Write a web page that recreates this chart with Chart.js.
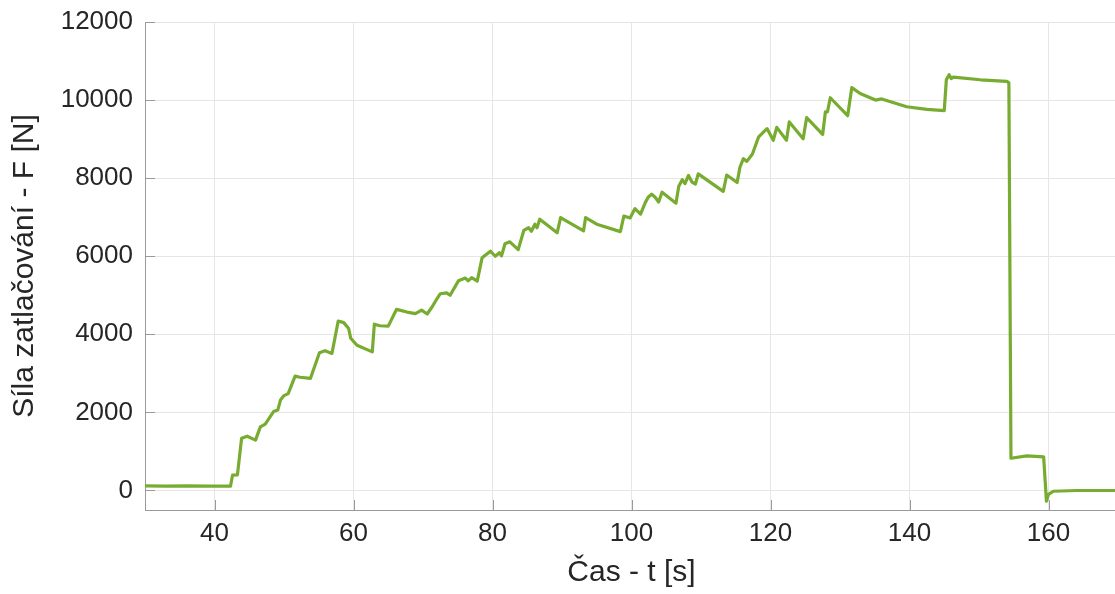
<!DOCTYPE html>
<html>
<head>
<meta charset="utf-8">
<script src="https://cdn.jsdelivr.net/npm/chart.js@4.4.0/dist/chart.umd.min.js"></script>
<style>
  html, body { margin: 0; padding: 0; background: #fff; overflow: hidden; }
  canvas { display: block; }
</style>
</head>
<body>
<canvas id="chart" width="1118" height="594"></canvas>
<script>
// Time [s] and force [N]
const times = [
  30, 33, 36, 39, 42.3, 42.6, 43.3, 43.9, 44.7, 45.9, 46.6, 47.3, 48.5, 49.1, 49.5, 50.0, 50.6,
  51.6, 52.3, 53.8, 55.1, 55.9, 56.9, 57.8, 58.6, 59.3, 59.6, 60.5, 62.7, 63.0, 63.8, 65.0,
  66.2, 67.7, 68.9, 69.8, 70.6, 71.3, 71.9, 72.5, 73.4, 73.9, 75.1, 76.1, 76.5, 77.0, 77.8,
  78.5, 79.7, 80.4, 81.0, 81.3, 81.8, 82.5, 83.7, 84.5, 85.2, 85.6, 86.1, 86.4, 86.8, 89.3,
  89.8, 93.1, 93.4, 95.0, 98.4, 98.9, 99.8, 100.5, 101.3, 102.0, 102.4, 102.9, 103.4, 103.9,
  104.4, 106.4, 106.8, 107.3, 107.7, 108.2, 108.7, 109.2, 109.6, 113.2, 113.7, 115.2, 115.6,
  116.1, 116.6, 117.4, 118.3, 119.5, 120.4, 120.9, 122.3, 122.7, 124.7, 125.2, 127.5, 127.9,
  128.2, 128.6, 131.1, 131.7, 132.9, 135.1, 136.0, 139.6, 142.5, 145.0, 145.3, 145.7, 146.0,
  146.3, 150.2, 154.0, 154.3, 154.6, 156.9, 159.3, 159.7, 160.0, 160.7, 164.1, 170
];
const forces = [
  120, 110, 120, 110, 110, 395, 400, 1340, 1390, 1290, 1630, 1700, 2020, 2060, 2320, 2430, 2480,
  2930, 2900, 2870, 3530, 3580, 3510, 4340, 4300, 4150, 3900, 3720, 3550, 4260, 4220, 4210,
  4640, 4570, 4530, 4620, 4520, 4700, 4880, 5040, 5060, 5000, 5370, 5440, 5370, 5450, 5360,
  5960, 6130, 6000, 6090, 6010, 6320, 6370, 6170, 6660, 6730, 6640, 6820, 6730, 6950, 6600,
  6990, 6650, 6990, 6820, 6630, 7030, 6980, 7220, 7080, 7380, 7510, 7590, 7510, 7390,
  7640, 7360, 7790, 7960, 7860, 8070, 7900, 7850, 8110, 7660, 8080, 7890, 8280,
  8500, 8430, 8620, 9060, 9270, 8970, 9300, 8970, 9440, 9010, 9550, 9120, 9700,
  9700, 10060, 9600, 10320, 10170, 10000, 10030, 9830, 9760, 9730, 10520, 10650, 10550,
  10590, 10520, 10480, 10440, 825, 885, 860, -275, -100, -20, 0, 0
];
const xTicks = [40, 60, 80, 100, 120, 140, 160];
const yTicks = [0, 2000, 4000, 6000, 8000, 10000, 12000];

const axisColor = '#9a9a9a';
const textColor = '#262626';
const fontFamily = '"Liberation Sans", Arial, Helvetica, sans-serif';

// MATLAB style ticks pointing into the plot
const innerTicks = {
  id: 'innerTicks',
  afterDatasetsDraw(chart) {
    const { ctx, chartArea, scales } = chart;
    ctx.save();
    ctx.strokeStyle = axisColor;
    ctx.lineWidth = 1;
    ctx.beginPath();
    xTicks.forEach(v => {
      const px = Math.round(scales.x.getPixelForValue(v)) + 0.5;
      ctx.moveTo(px, chartArea.bottom);
      ctx.lineTo(px, chartArea.bottom - 10);
    });
    yTicks.forEach(v => {
      const py = Math.round(scales.y.getPixelForValue(v)) + 0.5;
      ctx.moveTo(chartArea.left, py);
      ctx.lineTo(chartArea.left + 10, py);
    });
    ctx.stroke();
    ctx.restore();
  }
};

new Chart(document.getElementById('chart'), {
  type: 'line',
  data: {
    datasets: [{
      data: times.map((t, i) => ({ x: t, y: forces[i] })),
      borderColor: '#77ac30',
      borderWidth: 3.2,
      pointRadius: 0,
      tension: 0,
      borderJoinStyle: 'round',
      fill: false
    }]
  },
  options: {
    responsive: false,
    animation: false,
    layout: { padding: { top: 22, right: 0, left: 0, bottom: 0 } },
    plugins: {
      legend: { display: false },
      tooltip: { enabled: false }
    },
    scales: {
      x: {
        type: 'linear',
        min: 30,
        max: 170,
        afterFit(scale) {
          scale.height = 84;
          scale.paddingLeft = 0;
          scale.paddingRight = 0;
        },
        afterBuildTicks(scale) { scale.ticks = xTicks.map(v => ({ value: v })); },
        grid: { color: '#e6e6e6', drawTicks: false },
        border: { color: axisColor, width: 1 },
        ticks: {
          padding: 8,
          color: textColor,
          font: { family: fontFamily, size: 26 },
          maxRotation: 0,
          callback: v => String(v)
        },
        title: {
          display: true,
          text: 'Čas - t [s]',
          color: textColor,
          font: { family: fontFamily, size: 30 },
          padding: { bottom: 3, top: 0 }
        }
      },
      y: {
        min: -500,
        max: 12000,
        afterFit(scale) {
          scale.width = 145;
          scale.paddingTop = 0;
          scale.paddingBottom = 0;
        },
        afterBuildTicks(scale) { scale.ticks = yTicks.map(v => ({ value: v })); },
        grid: { color: '#e6e6e6', drawTicks: false },
        border: { color: axisColor, width: 1 },
        ticks: {
          padding: 12,
          color: textColor,
          font: { family: fontFamily, size: 26 },
          callback: v => String(v)
        },
        title: {
          display: true,
          text: 'Síla zatlačování - F [N]',
          color: textColor,
          font: { family: fontFamily, size: 30 },
          padding: { top: 7, bottom: 0 }
        }
      }
    }
  },
  plugins: [innerTicks]
});
</script>
</body>
</html>
